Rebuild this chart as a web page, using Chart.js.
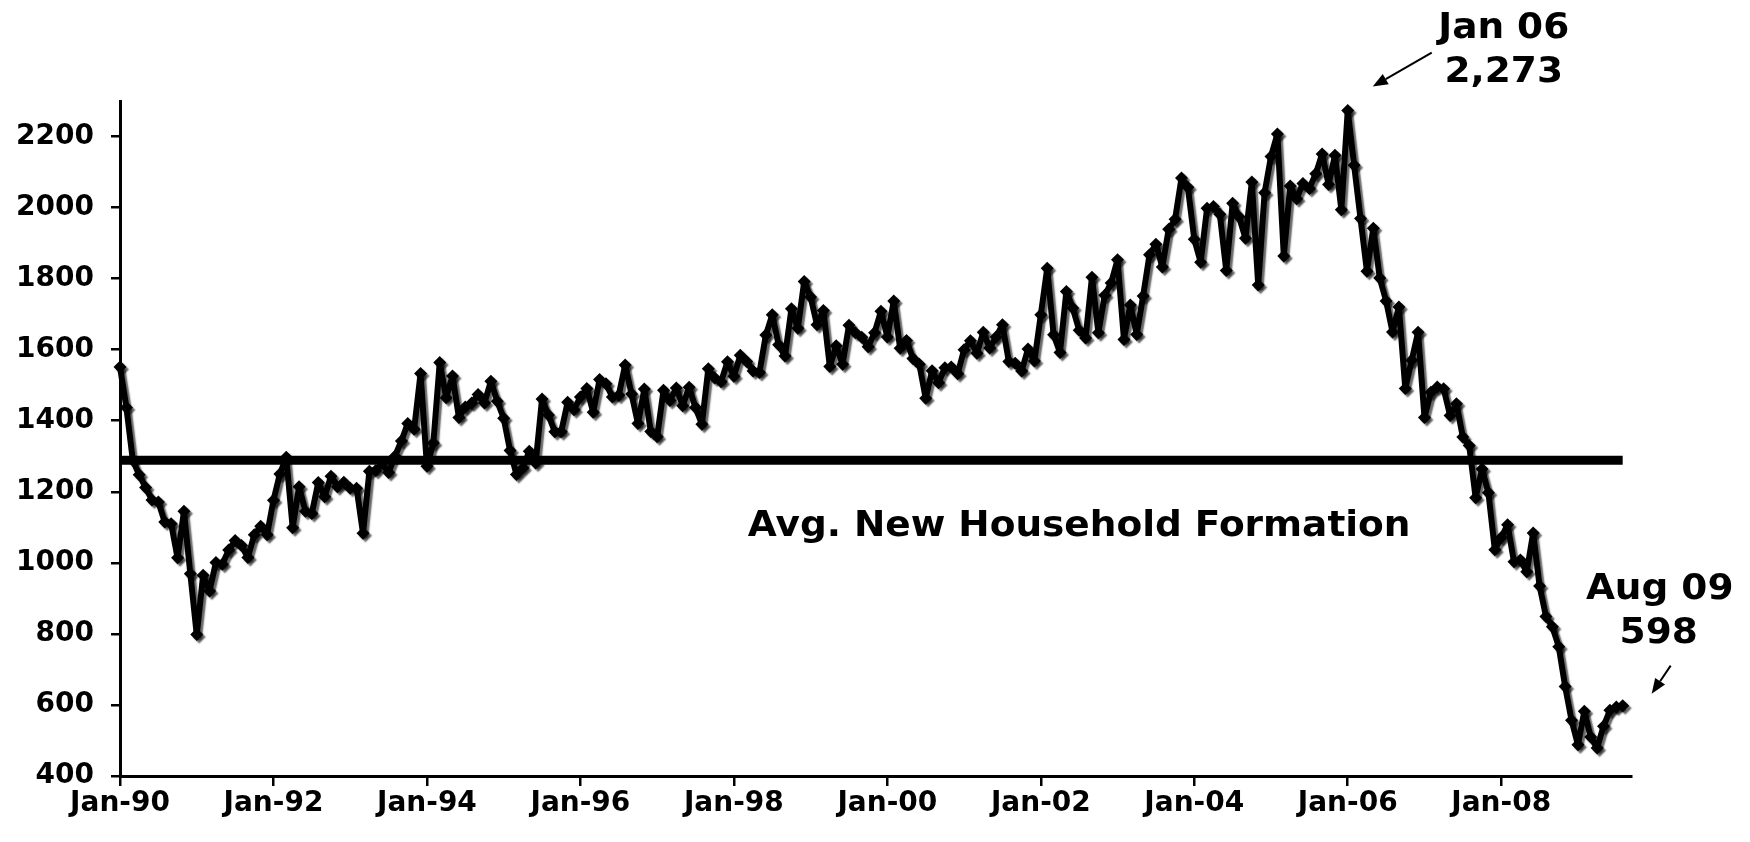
<!DOCTYPE html>
<html>
<head>
<meta charset="utf-8">
<script src="https://cdn.jsdelivr.net/npm/chart.js@4.4.1/dist/chart.umd.min.js"></script>
<style>
html,body{margin:0;padding:0;background:#fff;}
canvas{display:block;}
</style>
</head>
<body>
<canvas id="c" width="1750" height="842"></canvas>
<script>
// ---- data (monthly housing starts, thousands, SAAR) ----
const startYear = 1990;
const starts1990 = [1551,1437,1289,1248,1212,1177,1171,1115,1110,1014,1145,969];
const starts1991 = [798,965,921,1001,996,1036,1063,1049,1015,1079,1103,1079];
const starts1992 = [1176,1250,1297,1099,1214,1145,1139,1226,1186,1244,1214,1227];
const starts1993 = [1210,1210,1083,1258,1260,1280,1254,1300,1343,1392,1376,1533];
const starts1994 = [1272,1337,1564,1465,1526,1409,1439,1450,1474,1450,1511,1455];
const starts1995 = [1407,1316,1249,1267,1314,1281,1461,1416,1369,1369,1452,1431];
const starts1996 = [1467,1491,1424,1516,1504,1467,1472,1557,1475,1392,1489,1370];
const starts1997 = [1355,1486,1457,1492,1442,1494,1437,1390,1546,1520,1510,1566];
const starts1998 = [1525,1584,1567,1540,1536,1641,1698,1614,1582,1715,1660,1792];
const starts1999 = [1748,1670,1710,1553,1611,1559,1669,1648,1635,1608,1648,1708];
const starts2000 = [1636,1737,1604,1626,1575,1559,1463,1541,1507,1549,1551,1532];
const starts2001 = [1600,1625,1590,1649,1605,1636,1670,1567,1562,1540,1602,1568];
const starts2002 = [1698,1829,1642,1592,1764,1717,1655,1633,1804,1648,1753,1788];
const starts2003 = [1853,1629,1726,1643,1751,1867,1897,1833,1939,1967,2083,2057];
const starts2004 = [1911,1846,1998,2003,1981,1823,2012,1974,1914,2072,1782,2042];
const starts2005 = [2144,2207,1864,2061,2025,2068,2054,2095,2151,2065,2147,1994];
const starts2006 = [2273,2119,1969,1821,1942,1802,1737,1650,1720,1491,1570,1649];
const starts2007 = [1409,1480,1495,1490,1415,1448,1354,1330,1183,1264,1197,1037];
const starts2008 = [1071,1107,1003,1008,975,1084,935,849,820,764,652,557];
const starts2009 = [488,582,510,479,540,585,594,598];

const avgHouseholdFormation = 1289;
const avgLabel = 'Avg. New Household Formation';

const monthNames = ['Jan','Feb','Mar','Apr','May','Jun','Jul','Aug','Sep','Oct','Nov','Dec'];
const yTickValues = [400,600,800,1000,1200,1400,1600,1800,2000,2200];
const xTickMonths = [0,24,48,72,96,120,144,168,192,216];
const xTickLabels = ['Jan-90','Jan-92','Jan-94','Jan-96','Jan-98','Jan-00','Jan-02','Jan-04','Jan-06','Jan-08'];

// ---- build ----
const yearSeries = [starts1990,starts1991,starts1992,starts1993,starts1994,starts1995,starts1996,
  starts1997,starts1998,starts1999,starts2000,starts2001,starts2002,starts2003,starts2004,
  starts2005,starts2006,starts2007,starts2008,starts2009];
const values = yearSeries.flat();
const points = values.map((v, i) => ({x: i, y: v}));
const lastIdx = values.length - 1;
const peakIdx = values.indexOf(Math.max(...values));
const avgPoints = [{x: 0, y: avgHouseholdFormation}, {x: lastIdx, y: avgHouseholdFormation}];

function monthLabel(i) {
  const yr = startYear + Math.floor(i / 12);
  return monthNames[i % 12] + ' ' + String(yr % 100).padStart(2, '0');
}

const FONT = '"DejaVu Sans", Verdana, sans-serif';

const shadowPlugin = {
  id: 'shadow',
  beforeDatasetDraw(chart, args) {
    if (args.index !== 0) return;
    const ctx = chart.ctx;
    ctx.save();
    ctx.shadowColor = 'rgba(0,0,0,0.6)';
    ctx.shadowOffsetX = 2.5;
    ctx.shadowOffsetY = 2.5;
    ctx.shadowBlur = 1.5;
  },
  afterDatasetDraw(chart, args) {
    if (args.index !== 0) return;
    chart.ctx.restore();
  }
};

function stretchedText(ctx, text, x, y, sx) {
  ctx.save();
  ctx.translate(x, y);
  ctx.scale(sx, 1);
  ctx.fillText(text, 0, 0);
  ctx.restore();
}

function arrow(ctx, x1, y1, x2, y2) {
  const ang = Math.atan2(y2 - y1, x2 - x1);
  const hl = 15, hw = 6;
  const bx = x2 - hl * Math.cos(ang), by = y2 - hl * Math.sin(ang);
  ctx.save();
  ctx.strokeStyle = '#000';
  ctx.fillStyle = '#000';
  ctx.lineWidth = 2;
  ctx.beginPath();
  ctx.moveTo(x1, y1);
  ctx.lineTo(bx, by);
  ctx.stroke();
  ctx.beginPath();
  ctx.moveTo(x2, y2);
  ctx.lineTo(bx + hw * Math.sin(ang), by - hw * Math.cos(ang));
  ctx.lineTo(bx - hw * Math.sin(ang), by + hw * Math.cos(ang));
  ctx.closePath();
  ctx.fill();
  ctx.restore();
}

const annotatePlugin = {
  id: 'annotate',
  afterDraw(chart) {
    const ctx = chart.ctx;
    const meta = chart.getDatasetMeta(0);
    const xs = chart.scales.x, ys = chart.scales.y;
    ctx.save();
    ctx.fillStyle = '#000';
    ctx.textAlign = 'center';
    ctx.textBaseline = 'alphabetic';
    ctx.font = 'bold 35px ' + FONT;
    const sx = 1.07;

    // average label
    stretchedText(ctx, avgLabel, xs.getPixelForValue(150), ys.getPixelForValue(1075), sx);

    // peak callout
    const p = meta.data[peakIdx];
    stretchedText(ctx, monthLabel(peakIdx), p.x + 156, p.y - 73, sx);
    stretchedText(ctx, values[peakIdx].toLocaleString('en-US'), p.x + 156, p.y - 29, sx);
    arrow(ctx, p.x + 84, p.y - 58, p.x + 25, p.y - 24);

    // last callout
    const l = meta.data[lastIdx];
    stretchedText(ctx, monthLabel(lastIdx), l.x + 37, l.y - 107, sx);
    stretchedText(ctx, values[lastIdx].toLocaleString('en-US'), l.x + 36, l.y - 63, sx);
    arrow(ctx, l.x + 48, l.y - 40, l.x + 29, l.y - 12);
    ctx.restore();
  }
};

const tickFont = {family: FONT, weight: 'bold', size: 28};

new Chart(document.getElementById('c'), {
  type: 'line',
  data: {
    datasets: [
      {
        label: 'Housing starts',
        data: points,
        borderColor: '#000',
        backgroundColor: '#000',
        borderWidth: 6,
        borderJoinStyle: 'round',
        pointStyle: 'rectRot',
        pointRadius: 6.5,
        pointBackgroundColor: '#000',
        pointBorderColor: '#000',
        pointBorderWidth: 0,
        tension: 0,
        clip: false
      },
      {
        label: avgLabel,
        data: avgPoints,
        borderColor: '#000',
        borderWidth: 9,
        pointRadius: 0,
        borderCapStyle: 'butt',
        tension: 0,
        clip: false
      }
    ]
  },
  options: {
    responsive: false,
    animation: false,
    devicePixelRatio: 1,
    events: [],
    layout: {padding: {top: 101, right: 119, left: 0, bottom: 0}},
    plugins: {legend: {display: false}, tooltip: {enabled: false}, title: {display: false}},
    scales: {
      x: {
        type: 'linear',
        min: 0,
        max: 236.3,
        afterBuildTicks: s => { s.ticks = xTickMonths.map(v => ({value: v})); },
        afterFit: s => { s.height = 66; },
        ticks: {
          autoSkip: false, maxRotation: 0, minRotation: 0, padding: 1,
          color: '#000', font: tickFont,
          callback: (v, i) => xTickLabels[i]
        },
        grid: {drawOnChartArea: false, drawTicks: true, tickLength: 10, color: '#000', lineWidth: 2.5},
        border: {display: true, color: '#000', width: 3}
      },
      y: {
        type: 'linear',
        min: 400,
        max: 2300,
        afterBuildTicks: s => { s.ticks = yTickValues.map(v => ({value: v})); },
        afterFit: s => { s.width = 120; },
        ticks: {
          padding: 17, color: '#000', font: tickFont,
          callback: v => String(v)
        },
        grid: {drawOnChartArea: false, drawTicks: true, tickLength: 9, color: '#000', lineWidth: 2.5},
        border: {display: true, color: '#000', width: 3}
      }
    }
  },
  plugins: [shadowPlugin, annotatePlugin]
});
</script>
</body>
</html>
